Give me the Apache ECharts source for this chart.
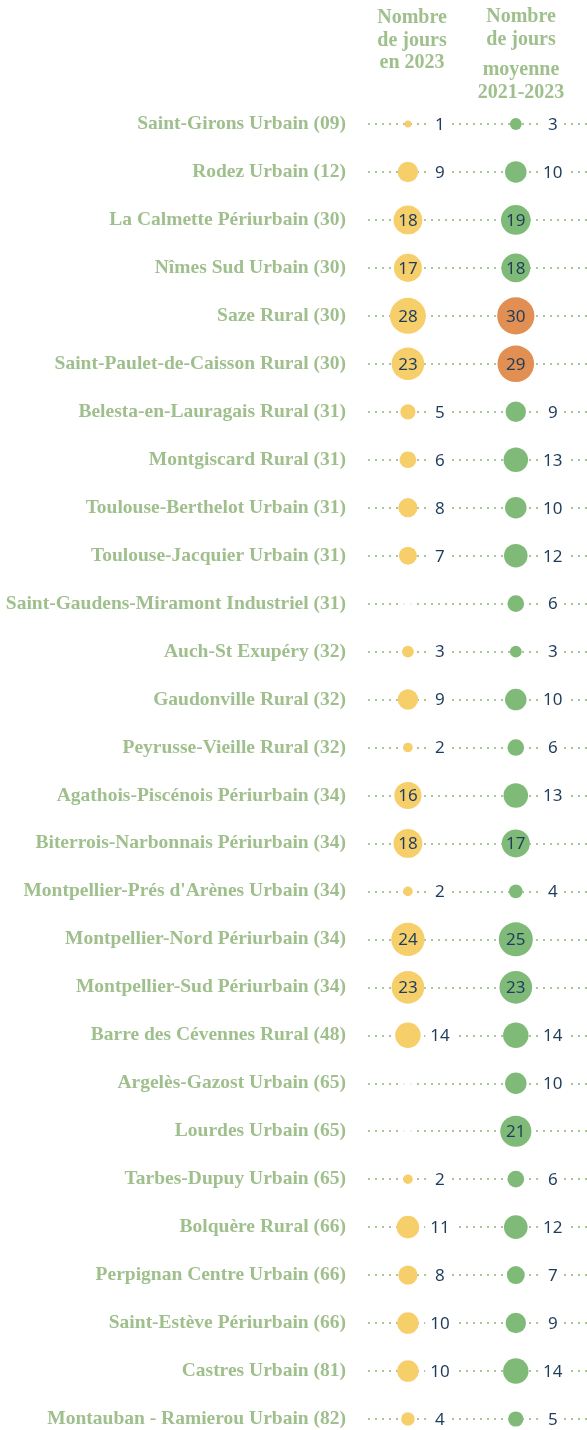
<!DOCTYPE html>
<html>
<head>
<meta charset="utf-8">
<script src="https://cdn.jsdelivr.net/npm/echarts@6/dist/echarts.min.js"></script>
<style>
  html, body { margin: 0; padding: 0; background: #fff; }
  #chart { width: 587px; height: 1430px; }
</style>
</head>
<body>
<div id="chart"></div>
<script>
// stations (rows, top to bottom)
const stations = [
  'Saint-Girons Urbain (09)',
  'Rodez Urbain (12)',
  'La Calmette Périurbain (30)',
  'Nîmes Sud Urbain (30)',
  'Saze Rural (30)',
  'Saint-Paulet-de-Caisson Rural (30)',
  'Belesta-en-Lauragais Rural (31)',
  'Montgiscard Rural (31)',
  'Toulouse-Berthelot Urbain (31)',
  'Toulouse-Jacquier Urbain (31)',
  'Saint-Gaudens-Miramont Industriel (31)',
  'Auch-St Exupéry (32)',
  'Gaudonville Rural (32)',
  'Peyrusse-Vieille Rural (32)',
  'Agathois-Piscénois Périurbain (34)',
  'Biterrois-Narbonnais Périurbain (34)',
  "Montpellier-Prés d'Arènes Urbain (34)",
  'Montpellier-Nord Périurbain (34)',
  'Montpellier-Sud Périurbain (34)',
  'Barre des Cévennes Rural (48)',
  'Argelès-Gazost Urbain (65)',
  'Lourdes Urbain (65)',
  'Tarbes-Dupuy Urbain (65)',
  'Bolquère Rural (66)',
  'Perpignan Centre Urbain (66)',
  'Saint-Estève Périurbain (66)',
  'Castres Urbain (81)',
  'Montauban - Ramierou Urbain (82)'
];

// nombre de jours en 2023 (null = pas de mesure)
const jours2023 = [1, 9, 18, 17, 28, 23, 5, 6, 8, 7, null, 3, 9, 2, 16, 18, 2, 24, 23, 14, null, null, 2, 11, 8, 10, 10, 4];

// moyenne 2021-2023
const joursMoyenne = [3, 10, 19, 18, 30, 29, 9, 13, 10, 12, 6, 3, 10, 6, 13, 17, 4, 25, 23, 14, 10, 21, 6, 12, 7, 9, 14, 5];

const GREEN_TEXT = '#9fbf8c';
const NAVY = '#1f3d5b';
const YELLOW = '#f6cf6b';
const GREEN = '#80ba78';
const ORANGE = '#e18f52';
const INSIDE_MIN = 16;   // à partir de ce seuil le chiffre est dans la bulle
const ORANGE_MIN = 29;

const chart = echarts.init(document.getElementById('chart'));

// construit les points d'une colonne
function columnData(values, col, labelDx) {
  const out = [];
  values.forEach((v, i) => {
    if (v == null) return;
    const inside = v >= INSIDE_MIN;
    out.push({
      value: [col, i, v],
      label: inside
        ? { offset: [0, 1], backgroundColor: 'transparent', padding: 0 }
        : { offset: [labelDx, 1], backgroundColor: '#fff', padding: [2, 5] }
    });
  });
  return out;
}

// petits trous dans le pointillé quand la valeur manque
function gapData(values, col) {
  const out = [];
  values.forEach((v, i) => { if (v == null) out.push([col, i]); });
  return out;
}

const bubbleSeries = (name, values, col, dx, baseColor) => ({
  name,
  type: 'scatter',
  data: columnData(values, col, dx),
  symbolSize: d => 6.8 * Math.sqrt(d[2]),
  itemStyle: {
    color: p => (p.value[2] >= ORANGE_MIN ? ORANGE : baseColor),
    opacity: 1
  },
  label: {
    show: true,
    position: 'inside',
    formatter: p => p.value[2],
    color: NAVY,
    fontFamily: 'Noto Sans',
    fontSize: 17
  },
  emphasis: { disabled: true },
  z: 3
});

const headerStyle = {
  fontFamily: 'Liberation Serif',
  fontWeight: 'bold',
  fontSize: 20,
  color: GREEN_TEXT,
  lineHeight: 22.5
};

chart.setOption({
  animation: false,
  title: [
    { text: 'Nombre\nde jours\nen 2023', left: 407, top: 2, textAlign: 'center', textStyle: headerStyle },
    { text: 'Nombre\nde jours', left: 516, top: 1, textAlign: 'center', textStyle: headerStyle },
    { text: 'moyenne\n2021-2023', left: 516, top: 54, textAlign: 'center', textStyle: headerStyle }
  ],
  grid: { left: 368, right: 0, top: 124, bottom: 11 },
  xAxis: {
    type: 'value',
    min: -0.37,
    max: 1.66,
    show: false
  },
  yAxis: {
    type: 'category',
    data: stations,
    inverse: true,
    boundaryGap: false,
    axisLine: { show: false },
    axisTick: { show: false },
    axisLabel: {
      interval: 0,
      margin: 22,
      fontFamily: 'Liberation Serif',
      fontWeight: 'bold',
      fontSize: 19.5,
      color: GREEN_TEXT
    },
    splitLine: {
      show: true,
      interval: 0,
      lineStyle: { color: '#a7c794', width: 2, type: [2, 5] }
    }
  },
  series: [
    bubbleSeries('en 2023', jours2023, 0, 32, YELLOW),
    bubbleSeries('moyenne 2021-2023', joursMoyenne, 1, 37, GREEN),
    {
      name: 'gap',
      type: 'scatter',
      data: gapData(jours2023, 0),
      symbol: 'rect',
      symbolSize: [11, 5],
      itemStyle: { color: '#fff' },
      silent: true,
      z: 2
    }
  ]
});
</script>
</body>
</html>
